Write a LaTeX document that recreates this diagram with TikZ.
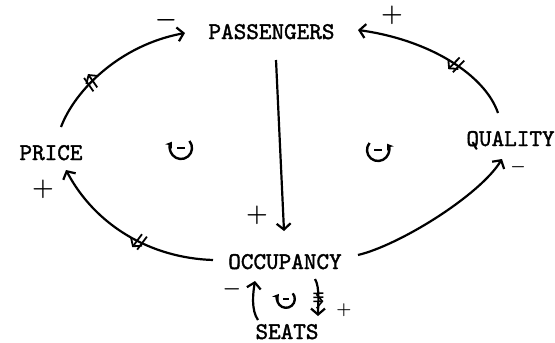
\documentclass[tikz,border=0pt]{standalone}
\usepackage{fontspec}
\newfontfamily\typew{lmmono10-regular}[Extension=.otf, FakeBold=1.6]
\usetikzlibrary{arrows.meta,decorations.markings}
\begin{document}
\begin{tikzpicture}[x=1pt,y=-1pt,
  lbl/.style={font=\fontsize{24}{24}\selectfont\typew, inner sep=0pt, text height=14pt, text depth=0pt},
  link/.style={line width=2.2pt, -{Straight Barb[length=6pt,width=14pt]}},
  sgn/.style={font=\fontsize{26}{26}\selectfont\boldmath, inner sep=0pt},
  sgnmid/.style={font=\fontsize{22}{22}\selectfont\boldmath, inner sep=0pt},
  sgnsmall/.style={font=\fontsize{17}{17}\selectfont\boldmath, inner sep=0pt},
  dbl/.style={postaction={decorate}, decoration={markings, mark=at position #1 with {\draw[line width=1.8pt] (-4pt,-8pt)--(-1pt,8pt) (1.5pt,-8pt)--(4.5pt,8pt);}}},
  tpl/.style={postaction={decorate}, decoration={markings, mark=at position #1 with {\draw[line width=1.5pt] (-4pt,-5pt)--(-4pt,5pt) (0pt,-5pt)--(0pt,5pt) (4pt,-5pt)--(4pt,5pt);}}},
  cwloop/.pic={\draw[line width=2.4pt,-{Stealth[length=6pt,width=8pt]}] (40:11pt) arc[start angle=40,end angle=-215,radius=11pt];
               \draw[line width=2pt] (-4pt,0pt)--(4pt,0pt);},
  ccwloop/.pic={\draw[line width=2.4pt,-{Stealth[length=6pt,width=8pt]}] (140:11pt) arc[start angle=140,end angle=395,radius=11pt];
               \draw[line width=2pt] (-4pt,0pt)--(4pt,0pt);}
]
\useasboundingbox (0,0) rectangle (555,343);

\node[lbl] (pass)  at (271.5,32) {PASSENGERS};
\node[lbl] (price) at (51,153)   {PRICE};
\node[lbl] (qual)  at (510.5,139) {QUALITY};
\node[lbl] (occ)   at (285,262)  {OCCUPANCY};
\node[lbl] (seats) at (287,332)  {SEATS};

% PRICE -> PASSENGERS
\draw[link,dbl=0.33] ([shift={(10,-26)}]price.center) .. controls +(14,-37) and +(-65,12) .. ([shift={(-86.5,1)}]pass.center);
% QUALITY -> PASSENGERS
\draw[link,dbl=0.38] ([shift={(-12.5,-26)}]qual.center) .. controls +(-13,-38) and +(72,10) .. ([shift={(86.5,-2)}]pass.center);
% PASSENGERS -> OCCUPANCY
\draw[link] ([shift={(4.5,28)}]pass.center) -- ([shift={(-1,-31)}]occ.center);
% OCCUPANCY -> PRICE
\draw[link,dbl=0.42] ([shift={(-72,-2)}]occ.center) .. controls +(-63,-2) and +(29,55) .. ([shift={(15,17)}]price.center);
% OCCUPANCY -> QUALITY
\draw[link] ([shift={(73,-7)}]occ.center) .. controls +(42,-10) and +(-22,36) .. ([shift={(-8.5,20)}]qual.center);
% SEATS -> OCCUPANCY
\draw[link] ([shift={(-29,-12)}]seats.center) .. controls +(-7,-10) and +(-2,12) .. ([shift={(-30,19)}]occ.center);
% OCCUPANCY -> SEATS
\draw[link,tpl=0.5] ([shift={(30,17)}]occ.center) .. controls +(5,8) and +(0,-10) .. ([shift={(31,-16)}]seats.center);

% polarity signs
\node[sgn] (s1) at (166,20) {$-$};
\node[sgn] (s2) at (392,15) {$+$};
\node[sgn] (s3) at (257,215) {$+$};
\node[sgn] (s4) at (43,189) {$+$};
\node[sgnsmall] (s5) at (518,167) {$-$};
\node[sgnmid] (s6) at (232,289) {$-$};
\node[sgnsmall] (s7) at (344,310) {$+$};

% loop symbols
\pic at (181,148) {cwloop};
\pic at (378,150) {ccwloop};
\pic[scale=0.8] at (286,299) {cwloop};
\end{tikzpicture}
\end{document}
